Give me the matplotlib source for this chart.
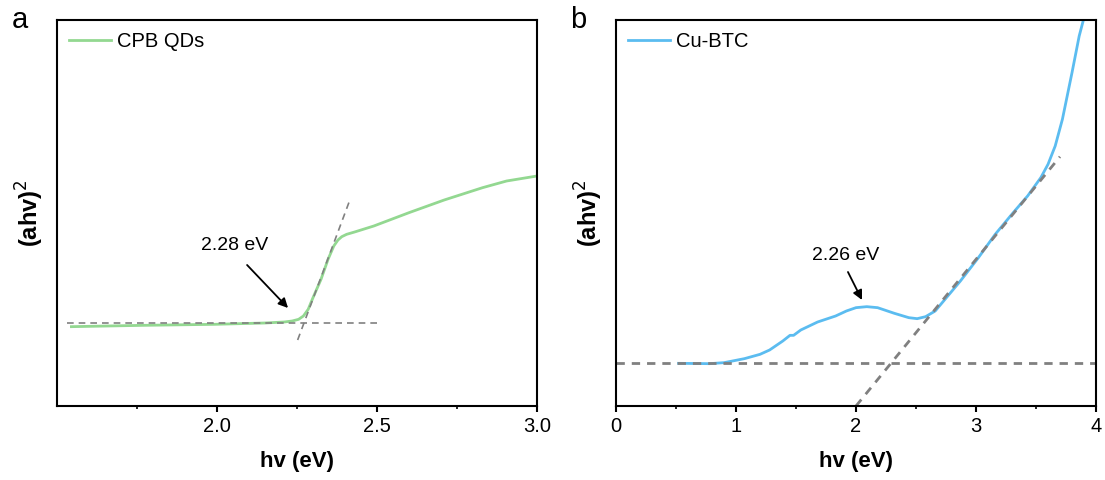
import matplotlib
matplotlib.use('Agg')
import matplotlib.pyplot as plt
from matplotlib.ticker import FixedLocator

plt.rcParams['font.family'] = ['Liberation Sans', 'DejaVu Sans']

# panel a: CPB QDs (y in arbitrary units)
a_x = [1.545, 1.77, 1.99, 2.15, 2.21, 2.235, 2.255, 2.27, 2.285, 2.30, 2.325, 2.347,
       2.365, 2.378, 2.39, 2.405, 2.43, 2.49, 2.60, 2.71, 2.83, 2.905, 3.0]
a_y = [238, 242, 245, 249, 252, 255, 260, 270, 290, 325, 380, 440,
       480, 498, 508, 515, 522, 540, 580, 618, 655, 675, 690]
a_base_x = [1.53, 2.515]
a_base_y = [250, 250]
a_tan_x = [2.252, 2.414]
a_tan_y = [198, 615]

# panel b: Cu-BTC
b_x = [0.522, 0.78, 0.9, 1.07, 1.2, 1.28, 1.39, 1.45, 1.48, 1.54, 1.68, 1.83, 1.92,
       2.0, 2.09, 2.18, 2.32, 2.44, 2.51, 2.58, 2.66, 2.73, 2.87, 3.02, 3.16,
       3.31, 3.43, 3.54, 3.60, 3.66, 3.72, 3.80, 3.86, 3.895]
b_y = [128, 127, 130, 142, 155, 168, 195, 212, 212, 228, 252, 270, 285,
       295, 298, 295, 278, 265, 262, 268, 285, 315, 375, 445, 515,
       580, 630, 685, 725, 780, 860, 1000, 1110, 1158]
b_base_x = [0.0, 4.0]
b_base_y = [128, 128]
b_tan_x = [2.0, 3.70]
b_tan_y = [0, 748]

green = '#93d891'
blue = '#5bbcf0'
dash = '#808080'

fig = plt.figure(figsize=(11.05, 4.8), dpi=100)
ax1 = fig.add_axes([57 / 1105, 1 - 406 / 480, 480 / 1105, 386 / 480])
ax2 = fig.add_axes([616 / 1105, 1 - 406 / 480, 480 / 1105, 386 / 480])

ax1.plot(a_x, a_y, color=green, lw=2, label='CPB QDs')
ax1.plot(a_base_x, a_base_y, color=dash, lw=1.2, ls=(0, (4, 3)))
ax1.plot(a_tan_x, a_tan_y, color=dash, lw=1.2, ls=(0, (4, 3)))
ax1.set_xlim(1.5, 3.0)
ax1.set_ylim(0, 1158)
ax1.xaxis.set_major_locator(FixedLocator([2.0, 2.5, 3.0]))
ax1.xaxis.set_minor_locator(FixedLocator([1.75, 2.25, 2.75]))
ax1.set_xticklabels(['2.0', '2.5', '3.0'])
ax1.text(2.056, 480, '2.28 eV', ha='center', va='center', fontsize=14)
ax1.annotate('', xy=(2.222, 294), xytext=(2.094, 423),
             arrowprops=dict(arrowstyle='-|>', color='black', lw=1.3,
                             shrinkA=0, shrinkB=0, mutation_scale=14))

ax2.plot(b_x, b_y, color=blue, lw=2, label='Cu-BTC')
ax2.plot(b_base_x, b_base_y, color=dash, lw=2, ls=(0, (3, 2.5)))
ax2.plot(b_tan_x, b_tan_y, color=dash, lw=2, ls=(0, (3, 2.5)))
ax2.set_xlim(0, 4)
ax2.set_ylim(0, 1158)
ax2.xaxis.set_major_locator(FixedLocator([0, 1, 2, 3, 4]))
ax2.xaxis.set_minor_locator(FixedLocator([0.5, 1.5, 2.5, 3.5]))
ax2.set_xticklabels(['0', '1', '2', '3', '4'])
ax2.text(1.917, 450, '2.26 eV', ha='center', va='center', fontsize=14)
ax2.annotate('', xy=(2.05, 318), xytext=(1.933, 402),
             arrowprops=dict(arrowstyle='-|>', color='black', lw=1.3,
                             shrinkA=0, shrinkB=0, mutation_scale=14))

for ax, letter in [(ax1, 'a'), (ax2, 'b')]:
    for s in ax.spines.values():
        s.set_linewidth(1.5)
    ax.set_yticks([])
    ax.tick_params(axis='x', which='major', length=4.5, width=1.5, labelsize=14.5, direction='out')
    ax.tick_params(axis='x', which='minor', length=2.5, width=1.2, direction='out')
    ax.set_xlabel('hv (eV)', fontsize=16, fontweight='bold', labelpad=11)
    ax.set_ylabel('(ahv)$^2$', fontsize=17, fontweight='bold', labelpad=8)
    ax.legend(loc='upper left', frameon=False, fontsize=14.5, handlelength=2.1,
              handletextpad=0.3, borderaxespad=0.3, borderpad=0.3)
    ax.text(-0.095, 1.0, letter, transform=ax.transAxes, fontsize=21, va='center', ha='left')

fig.savefig('out.png', dpi=100)
